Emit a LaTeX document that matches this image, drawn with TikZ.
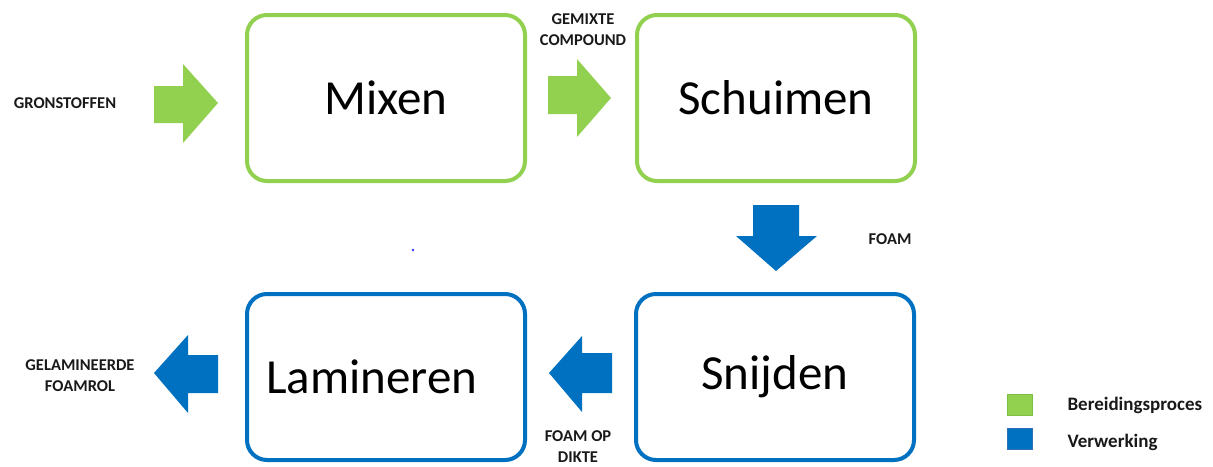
\documentclass[tikz,border=0pt]{standalone}
\usepackage{fontspec}
\setmainfont{Carlito}
\definecolor{procgreen}{HTML}{92D050}
\definecolor{procblue}{HTML}{0070C0}
\definecolor{greenedge}{HTML}{7CBF45}
\definecolor{blueedge}{HTML}{2F6FB5}
\tikzset{
  stage/.style={draw=#1, line width=4pt, rounded corners=20pt, fill=white,
    minimum width=278pt, minimum height=166pt, inner sep=0pt,
    font=\fontsize{49}{52}\selectfont},
  flowlabel/.style={font=\bfseries\fontsize{16.5}{21}\selectfont, align=center, text=black!90},
  legendlabel/.style={font=\bfseries\fontsize{19}{21}\selectfont, anchor=west, text=black!90},
  legendbox/.style={minimum width=25pt, minimum height=21pt, inner sep=0pt, line width=1pt},
}
\begin{document}
\begin{tikzpicture}[x=1pt,y=-1pt]
\useasboundingbox (0,0) rectangle (1213,466);

% process stages
\node[stage=procgreen] (mixen) at (386,98) {Mixen};
\node[stage=procgreen] (schuimen) at (776,98) {Schuimen};
\node[stage=procblue] (snijden) at (775,377) {Snijden};
\node[stage=procblue, text width=240pt, align=left] (lamineren) at (386,377) {Lamineren};

% block arrows between stages
\fill[procgreen] (154,86) -- (183,86) -- (183,64) -- (218,103) -- (183,143) -- (183,123) -- (154,123) -- cycle;
\fill[procgreen] (548,76) -- (577,76) -- (577,59) -- (611,98) -- (577,137) -- (577,114) -- (548,114) -- cycle;
\fill[procblue] (753,205) -- (799,205) -- (799,236) -- (817,236) -- (776,271) -- (736,236) -- (753,236) -- cycle;
\fill[procblue] (612,353) -- (582,353) -- (582,336) -- (549,373) -- (582,412) -- (582,393) -- (612,393) -- cycle;
\fill[procblue] (218,355) -- (188,355) -- (188,335) -- (154,373) -- (188,413) -- (188,393) -- (218,393) -- cycle;

% flow labels
\node[flowlabel] (grondstof) at (65,103) {GRONSTOFFEN};
\node[flowlabel] (compound) at (583,30) {GEMIXTE\\COMPOUND};
\node[flowlabel] (foam) at (890,239) {FOAM};
\node[flowlabel] (dikte) at (578,447) {FOAM OP\\DIKTE};
\node[flowlabel] (foamrol) at (80,376) {GELAMINEERDE\\FOAMROL};

% stray dot
\fill[blue!80] (413,250) circle (1.3pt);

% legend
\node[legendbox, fill=procgreen, draw=greenedge] (legA) at (1019.5,404.5) {};
\node[legendbox, fill=procblue, draw=blueedge] (legB) at (1019.5,439) {};
\node[legendlabel] (legAtext) at (1064,405) {Bereidingsproces};
\node[legendlabel] (legBtext) at (1064,442) {Verwerking};
\end{tikzpicture}
\end{document}
